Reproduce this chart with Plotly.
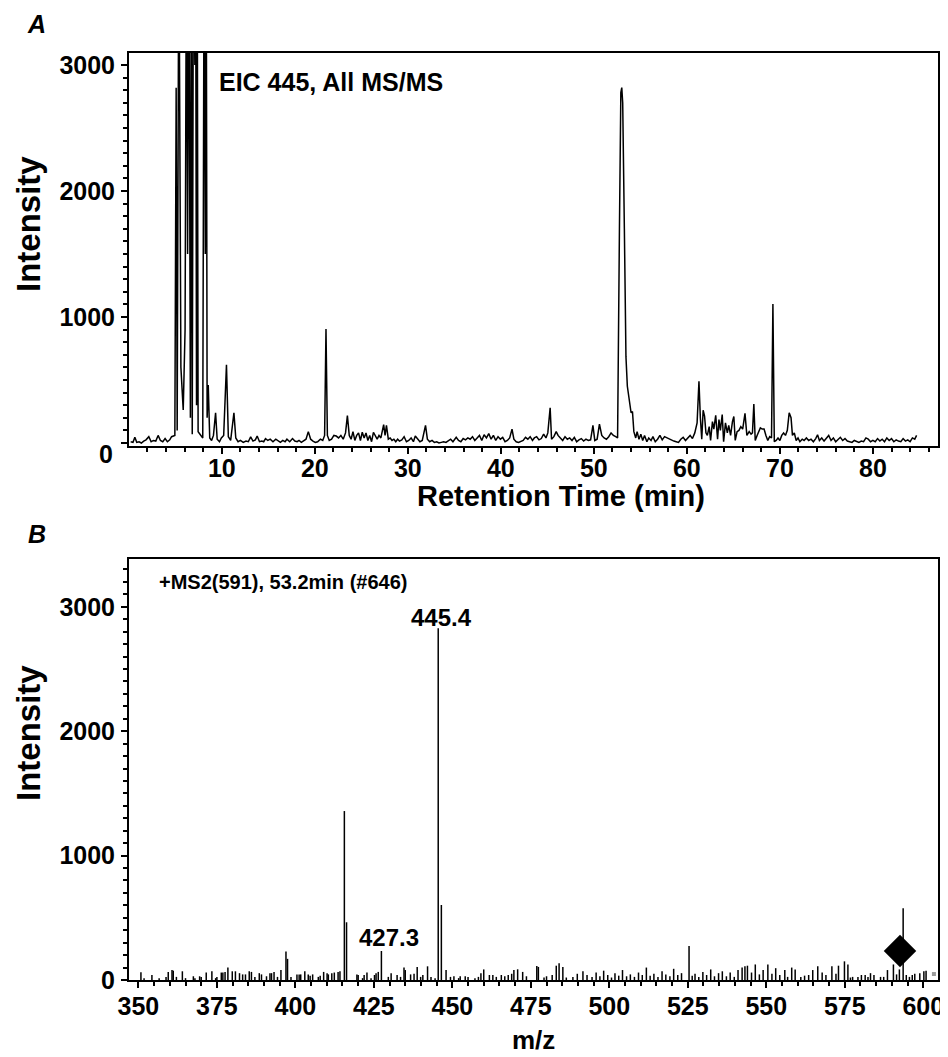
import plotly.graph_objects as go

# ---------------- Panel A: EIC 445 chromatogram ----------------
rt_min = [
    0.2, 0.45, 0.65, 0.85, 1.1, 1.35, 1.6, 1.85, 2.15, 2.4,
    2.65, 2.9, 3.15, 3.4, 3.65, 3.9, 4.15, 4.4, 4.6, 4.8,
    4.95, 5.09, 5.2, 5.38, 5.6, 5.85, 6.05, 6.2, 6.32, 6.46,
    6.62, 6.72, 6.82, 6.95, 7.1, 7.18, 7.28, 7.35, 7.45, 7.7,
    7.95, 8.1, 8.22, 8.32, 8.42, 8.54, 8.7, 8.9, 9.1, 9.33,
    9.5, 9.75, 9.95, 10.2, 10.5, 10.7, 10.95, 11.3, 11.5, 11.75,
    12.0, 12.3, 12.6, 12.85, 13.1, 13.35, 13.6, 13.8, 14.05, 14.3,
    14.5, 14.7, 14.95, 15.2, 15.5, 15.8, 16.05, 16.3, 16.55, 16.8,
    17.0, 17.3, 17.6, 17.85, 18.1, 18.3, 18.55, 18.8, 19.05, 19.3,
    19.55, 19.8, 20.05, 20.3, 20.6, 20.85, 21.05, 21.2, 21.35, 21.55,
    21.8, 22.05, 22.3, 22.55, 22.8, 23.05, 23.3, 23.5, 23.7, 23.9,
    24.1, 24.3, 24.5, 24.7, 24.9, 25.1, 25.3, 25.5, 25.7, 25.9,
    26.1, 26.3, 26.5, 26.7, 26.9, 27.1, 27.4, 27.55, 27.7, 27.9,
    28.1, 28.3, 28.5, 28.7, 28.9, 29.1, 29.35, 29.6, 29.85, 30.1,
    30.35, 30.6, 30.8, 31.05, 31.3, 31.55, 31.9, 32.1, 32.35, 32.6,
    32.85, 33.1, 33.35, 33.6, 33.85, 34.1, 34.35, 34.6, 34.85, 35.2,
    35.45, 35.7, 35.95, 36.2, 36.45, 36.7, 36.95, 37.2, 37.45, 37.7,
    37.95, 38.2, 38.45, 38.7, 38.95, 39.2, 39.45, 39.7, 39.95, 40.2,
    40.45, 40.7, 40.95, 41.2, 41.4, 41.65, 41.9, 42.15, 42.4, 42.65,
    42.9, 43.15, 43.4, 43.6, 43.85, 44.1, 44.35, 44.6, 44.85, 45.05,
    45.3, 45.45, 45.7, 45.95, 46.15, 46.4, 46.65, 46.9, 47.15, 47.4,
    47.65, 47.9, 48.15, 48.4, 48.65, 48.9, 49.15, 49.4, 49.65, 49.9,
    50.1, 50.35, 50.6, 50.85, 51.1, 51.35, 51.6, 51.85, 52.1, 52.35,
    52.55, 52.75, 52.9, 53.0, 53.1, 53.28, 53.45, 53.6, 53.75, 53.9,
    54.0, 54.15, 54.3, 54.5, 54.65, 54.85, 55.05, 55.25, 55.45, 55.7,
    55.9, 56.15, 56.35, 56.6, 56.85, 57.1, 57.35, 57.6, 57.85, 58.1,
    58.35, 58.6, 58.85, 59.1, 59.35, 59.6, 59.85, 60.1, 60.35, 60.6,
    60.85, 61.1, 61.3, 61.45, 61.6, 61.75, 61.9, 62.05, 62.2, 62.4,
    62.55, 62.75, 62.9, 63.1, 63.3, 63.45, 63.6, 63.8, 63.95, 64.15,
    64.35, 64.5, 64.7, 64.9, 65.05, 65.2, 65.4, 65.6, 65.8, 66.0,
    66.25, 66.45, 66.7, 66.9, 67.05, 67.2, 67.35, 67.55, 67.75, 67.9,
    68.1, 68.3, 68.5, 68.7, 68.9, 69.1, 69.25, 69.4, 69.6, 69.8,
    70.0, 70.2, 70.4, 70.6, 70.8, 71.0, 71.2, 71.35, 71.55, 71.75,
    71.95, 72.15, 72.4, 72.6, 72.85, 73.1, 73.35, 73.6, 73.85, 74.05,
    74.25, 74.5, 74.75, 75.0, 75.25, 75.5, 75.75, 76.0, 76.25, 76.5,
    76.75, 77.0, 77.25, 77.5, 77.75, 78.0, 78.25, 78.5, 78.75, 79.0,
    79.25, 79.5, 79.75, 80.0, 80.25, 80.5, 80.75, 81.0, 81.25, 81.5,
    81.75, 82.0, 82.25, 82.5, 82.75, 83.0, 83.25, 83.5, 83.75, 84.0,
    84.25, 84.5, 84.7,
]
eic_intensity = [
    10, 5, 45, 5, 10, 0, 15, 25, 50, 10,
    20, 15, 60, 20, 10, 35, 10, 25, 50, 55,
    60, 2820, 100, 4200, 600, 262, 900, 4200, 1500, 4200,
    200, 4200, 70, 4200, 3000, 4200, 300, 4200, 90, 60,
    40, 4200, 1500, 4200, 200, 460, 40, 20, 60, 240,
    30, 10, 40, 60, 620, 50, 20, 240, 40, 10,
    20, 5, 15, 10, 48, 15, 25, 55, 10, 15,
    10, 35, 20, 30, 10, 30, 15, 5, 20, 10,
    30, 10, 35, 15, 10, 20, 5, 15, 30, 90,
    30, 15, 5, 10, 30, 20, 60, 905, 60, 20,
    30, 60, 55, 40, 60, 30, 80, 217, 60, 30,
    90, 20, 60, 80, 20, 85, 40, 80, 20, 60,
    10, 85, 50, 30, 60, 40, 145, 60, 140, 30,
    40, 20, 30, 10, 30, 15, 25, 50, 10, 20,
    40, 10, 55, 30, 10, 20, 140, 30, 10, 20,
    5, 10, 0, 5, 10, 5, 15, 30, 10, 45,
    20, 10, 35, 25, 40, 30, 50, 20, 40, 60,
    20, 65, 40, 75, 30, 60, 20, 50, 30, 45,
    10, 20, 40, 110, 30, 10, 5, 10, 20, 45,
    30, 50, 20, 40, 50, 25, 35, 70, 40, 80,
    280, 30, 50, 90, 60, 40, 20, 50, 30, 40,
    20, 45, 10, 25, 35, 15, 30, 20, 25, 140,
    20, 30, 150, 60, 40, 30, 50, 80, 60, 50,
    40, 1700, 2780, 2820, 2700, 1700, 685, 450, 370, 310,
    240, 250, 90, 40, 90, 30, 70, 20, 60, 10,
    40, 20, 50, 10, 30, 60, 25, 50, 40, 30,
    25, 15, 10, 5, 30, 45, 20, 40, 60, 35,
    80, 160, 490, 200, 30, 260, 214, 80, 60, 130,
    20, 170, 110, 220, 30, 185, 100, 225, 10, 160,
    80, 140, 60, 170, 210, 20, 90, 100, 130, 110,
    235, 60, 90, 70, 80, 310, 20, 60, 100, 120,
    110, 110, 60, 20, 50, 40, 1103, 10, 20, 40,
    20, 60, 80, 60, 100, 240, 200, 60, 80, 20,
    40, 10, 30, 20, 40, 20, 30, 10, 35, 65,
    20, 40, 15, 40, 60, 20, 40, 10, 30, 45,
    20, 35, 15, 10, 5, 20, 10, 5, 15, 10,
    40, 30, 10, 20, 10, 35, 15, 30, 10, 40,
    20, 35, 10, 25, 15, 10, 35, 15, 25, 10,
    40, 30, 60,
]

# ---------------- Panel B: MS2 spectrum ----------------
mz = [
    350.8, 351.8, 354.3, 356.6, 358.8, 359.5, 360.7, 361.1, 362.1, 364.0,
    365.0, 367.5, 368.0, 369.5, 370.0, 371.6, 373.4, 374.6, 375.0, 376.4,
    376.9, 377.6, 378.5, 379.9, 380.9, 382.2, 383.2, 384.1, 385.3, 386.0,
    387.1, 388.5, 389.2, 390.8, 391.9, 392.4, 393.2, 394.3, 395.4, 397.0,
    397.5, 398.6, 400.5, 401.2, 401.7, 403.0, 404.1, 404.7, 405.5, 407.3,
    407.9, 409.0, 410.1, 410.5, 411.6, 412.4, 413.6, 414.2, 415.6, 416.3,
    419.6, 420.0, 421.4, 421.9, 422.8, 424.1, 425.2, 425.7, 426.4, 427.4,
    429.6, 430.5, 432.4, 433.5, 434.6, 435.0, 436.7, 437.8, 438.8, 439.9,
    440.6, 442.1, 443.2, 444.5, 445.5, 446.5, 448.0, 449.4, 450.5, 452.0,
    452.5, 454.1, 455.0, 457.2, 458.3, 459.1, 460.0, 461.8, 462.9, 464.0,
    465.6, 466.7, 467.8, 468.9, 469.6, 470.8, 472.4, 473.6, 476.9, 477.4,
    479.2, 480.0, 481.8, 483.1, 484.0, 485.2, 486.3, 488.4, 489.8, 491.6,
    492.9, 494.5, 495.8, 497.0, 498.2, 499.5, 500.7, 501.8, 503.0, 504.2,
    505.5, 506.7, 508.0, 509.3, 510.5, 511.8, 513.0, 514.2, 515.5, 516.8,
    518.0, 519.3, 520.5, 521.8, 523.0, 525.4, 526.4, 527.3, 528.5, 529.8,
    531.0, 532.3, 533.5, 534.8, 536.0, 537.3, 538.5, 539.8, 541.0, 542.3,
    543.2, 544.0, 545.3, 546.5, 547.8, 549.0, 550.5, 551.8, 553.0, 554.3,
    555.9, 556.8, 558.1, 559.2, 561.0, 562.2, 563.5, 564.8, 566.4, 567.8,
    569.0, 570.9, 572.2, 573.0, 574.9, 576.0, 576.8, 577.5, 579.2, 580.3,
    581.5, 582.4, 583.2, 584.3, 586.4, 587.4, 588.6, 590.5, 591.5, 592.4,
    593.6, 594.6, 595.6, 596.5, 597.3, 598.9, 600.2, 600.9,
]
ms2_intensity = [
    62, 15, 40, 15, 25, 65, 80, 75, 25, 70,
    15, 30, 15, 30, 25, 60, 70, 15, 25, 60,
    60, 65, 100, 70, 70, 55, 45, 45, 70, 65,
    25, 55, 45, 30, 55, 55, 65, 25, 80, 230,
    170, 25, 45, 45, 45, 70, 45, 35, 45, 25,
    35, 65, 55, 45, 55, 60, 65, 70, 1358, 464,
    45, 40, 15, 40, 60, 15, 40, 55, 65, 233,
    25, 55, 40, 25, 100, 80, 45, 50, 105, 25,
    40, 110, 25, 15, 2827, 603, 80, 25, 30, 15,
    30, 30, 25, 15, 25, 55, 85, 40, 40, 25,
    40, 30, 40, 50, 80, 86, 65, 30, 113, 105,
    20, 30, 40, 115, 134, 105, 20, 25, 50, 70,
    40, 25, 60, 30, 75, 40, 20, 55, 35, 80,
    30, 45, 25, 60, 40, 100, 35, 50, 25, 70,
    45, 30, 90, 40, 55, 273, 35, 50, 25, 65,
    40, 85, 30, 55, 70, 30, 60, 25, 80, 100,
    110, 115, 60, 125, 45, 80, 125, 50, 95, 40,
    80, 25, 100, 85, 25, 35, 40, 80, 110, 60,
    40, 110, 50, 115, 150, 125, 20, 25, 25, 40,
    40, 25, 55, 40, 25, 25, 80, 125, 45, 85,
    576, 40, 25, 40, 50, 55, 70, 75,
]
precursor_marker_mz = [592.6]
precursor_marker_intensity = [233]
gray_mark_mz = [603.4]
gray_mark_intensity = [48]

peak_labels = ["445.4", "427.3"]

# ---------------- Figure geometry helpers ----------------
# The page body has an 8px margin, so the figure is sized to fill the
# remaining 940x1049 area; positions below are given in window pixels.
OFF = 8
W, H = 948 - OFF, 1057 - OFF
def px(xp):
    return (xp - OFF) / W
def py(yp):
    return 1 - (yp - OFF) / H

FONT = "Liberation Sans, Arial, Helvetica, sans-serif"

fig = go.Figure()

fig.add_trace(go.Scatter(
    x=rt_min, y=eic_intensity, mode="lines",
    line=dict(color="black", width=1.5),
    xaxis="x", yaxis="y", hoverinfo="skip", showlegend=False,
))

stick_x, stick_y = [], []
for m, v in zip(mz, ms2_intensity):
    stick_x += [m, m, None]
    stick_y += [0, v, None]
fig.add_trace(go.Scatter(
    x=stick_x, y=stick_y, mode="lines",
    line=dict(color="black", width=1.5),
    xaxis="x2", yaxis="y2", hoverinfo="skip", showlegend=False,
))
fig.add_trace(go.Scatter(
    x=precursor_marker_mz, y=precursor_marker_intensity, mode="markers",
    marker=dict(symbol="diamond", size=25, color="black"),
    xaxis="x2", yaxis="y2", hoverinfo="skip", showlegend=False, cliponaxis=False,
))
fig.add_trace(go.Scatter(
    x=gray_mark_mz, y=gray_mark_intensity, mode="markers",
    marker=dict(symbol="square", size=4, color="#9a9a9a"),
    xaxis="x2", yaxis="y2", hoverinfo="skip", showlegend=False,
))

tickfont = dict(family=FONT, size=25, color="black", weight="bold")
common = dict(
    showline=True, linecolor="black", linewidth=2, mirror=True,
    ticks="outside", ticklen=6, tickwidth=1.5, tickcolor="black",
    showgrid=False, zeroline=False, tickfont=tickfont,
    automargin=False,
)
minor_common = dict(tickmode="linear", tick0=0, ticks="outside",
                    ticklen=4, tickwidth=1.5, tickcolor="black", showgrid=False)

xdom = [px(129), px(938)]
fig.update_layout(
    template="none",
    width=W, height=H,
    margin=dict(l=0, r=0, t=0, b=0, pad=0, autoexpand=False),
    paper_bgcolor="white", plot_bgcolor="white",
    showlegend=False,
    xaxis=dict(domain=xdom, anchor="y", range=[0.02, 87.0],
               tickmode="linear", tick0=0, dtick=10, ticklabelstandoff=-7,
               minor=dict(dtick=2, **minor_common), **common),
    yaxis=dict(domain=[py(446), py(53)], anchor="x", range=[-24, 3095],
               tickmode="linear", tick0=0, dtick=1000, labelalias={"0": " "},
               ticklabelstandoff=1,
               minor=dict(dtick=100, **minor_common), **common),
    xaxis2=dict(domain=xdom, anchor="y2", range=[347.0, 604.7],
                tickmode="linear", tick0=0, dtick=25, ticklabelstandoff=-3,
                minor=dict(dtick=5, **minor_common), **common),
    yaxis2=dict(domain=[py(980), py(559)], anchor="x2", range=[0, 3384],
                tickmode="linear", tick0=0, dtick=1000, ticklabelstandoff=1,
                minor=dict(dtick=100, **minor_common), **common),
)

def ann(text, x, y, size, xanchor="center", yanchor="middle", angle=0, style="normal"):
    fig.add_annotation(
        text=text, x=px(x), y=py(y), xref="paper", yref="paper",
        xanchor=xanchor, yanchor=yanchor, showarrow=False, textangle=angle,
        font=dict(family=FONT, size=size, color="black", weight="bold", style=style),
    )

ann("A", 36, 24, 25, style="italic")
ann("B", 37, 534, 25, style="italic")
ann("EIC 445, All MS/MS", 217, 82, 25, xanchor="left")
ann("+MS2(591), 53.2min (#646)", 157, 582, 20, xanchor="left")
ann(peak_labels[0], 441, 617, 24)
ann(peak_labels[1], 389, 937, 24)
ann("Retention Time (min)", 561, 496, 29)
ann("m/z", 533, 1040, 26)
ann("Intensity", 28, 224, 33, angle=-90)
ann("Intensity", 28, 733, 33, angle=-90)
ann("0", 115, 454, 25, xanchor="right")

fig.write_html("out.html")
